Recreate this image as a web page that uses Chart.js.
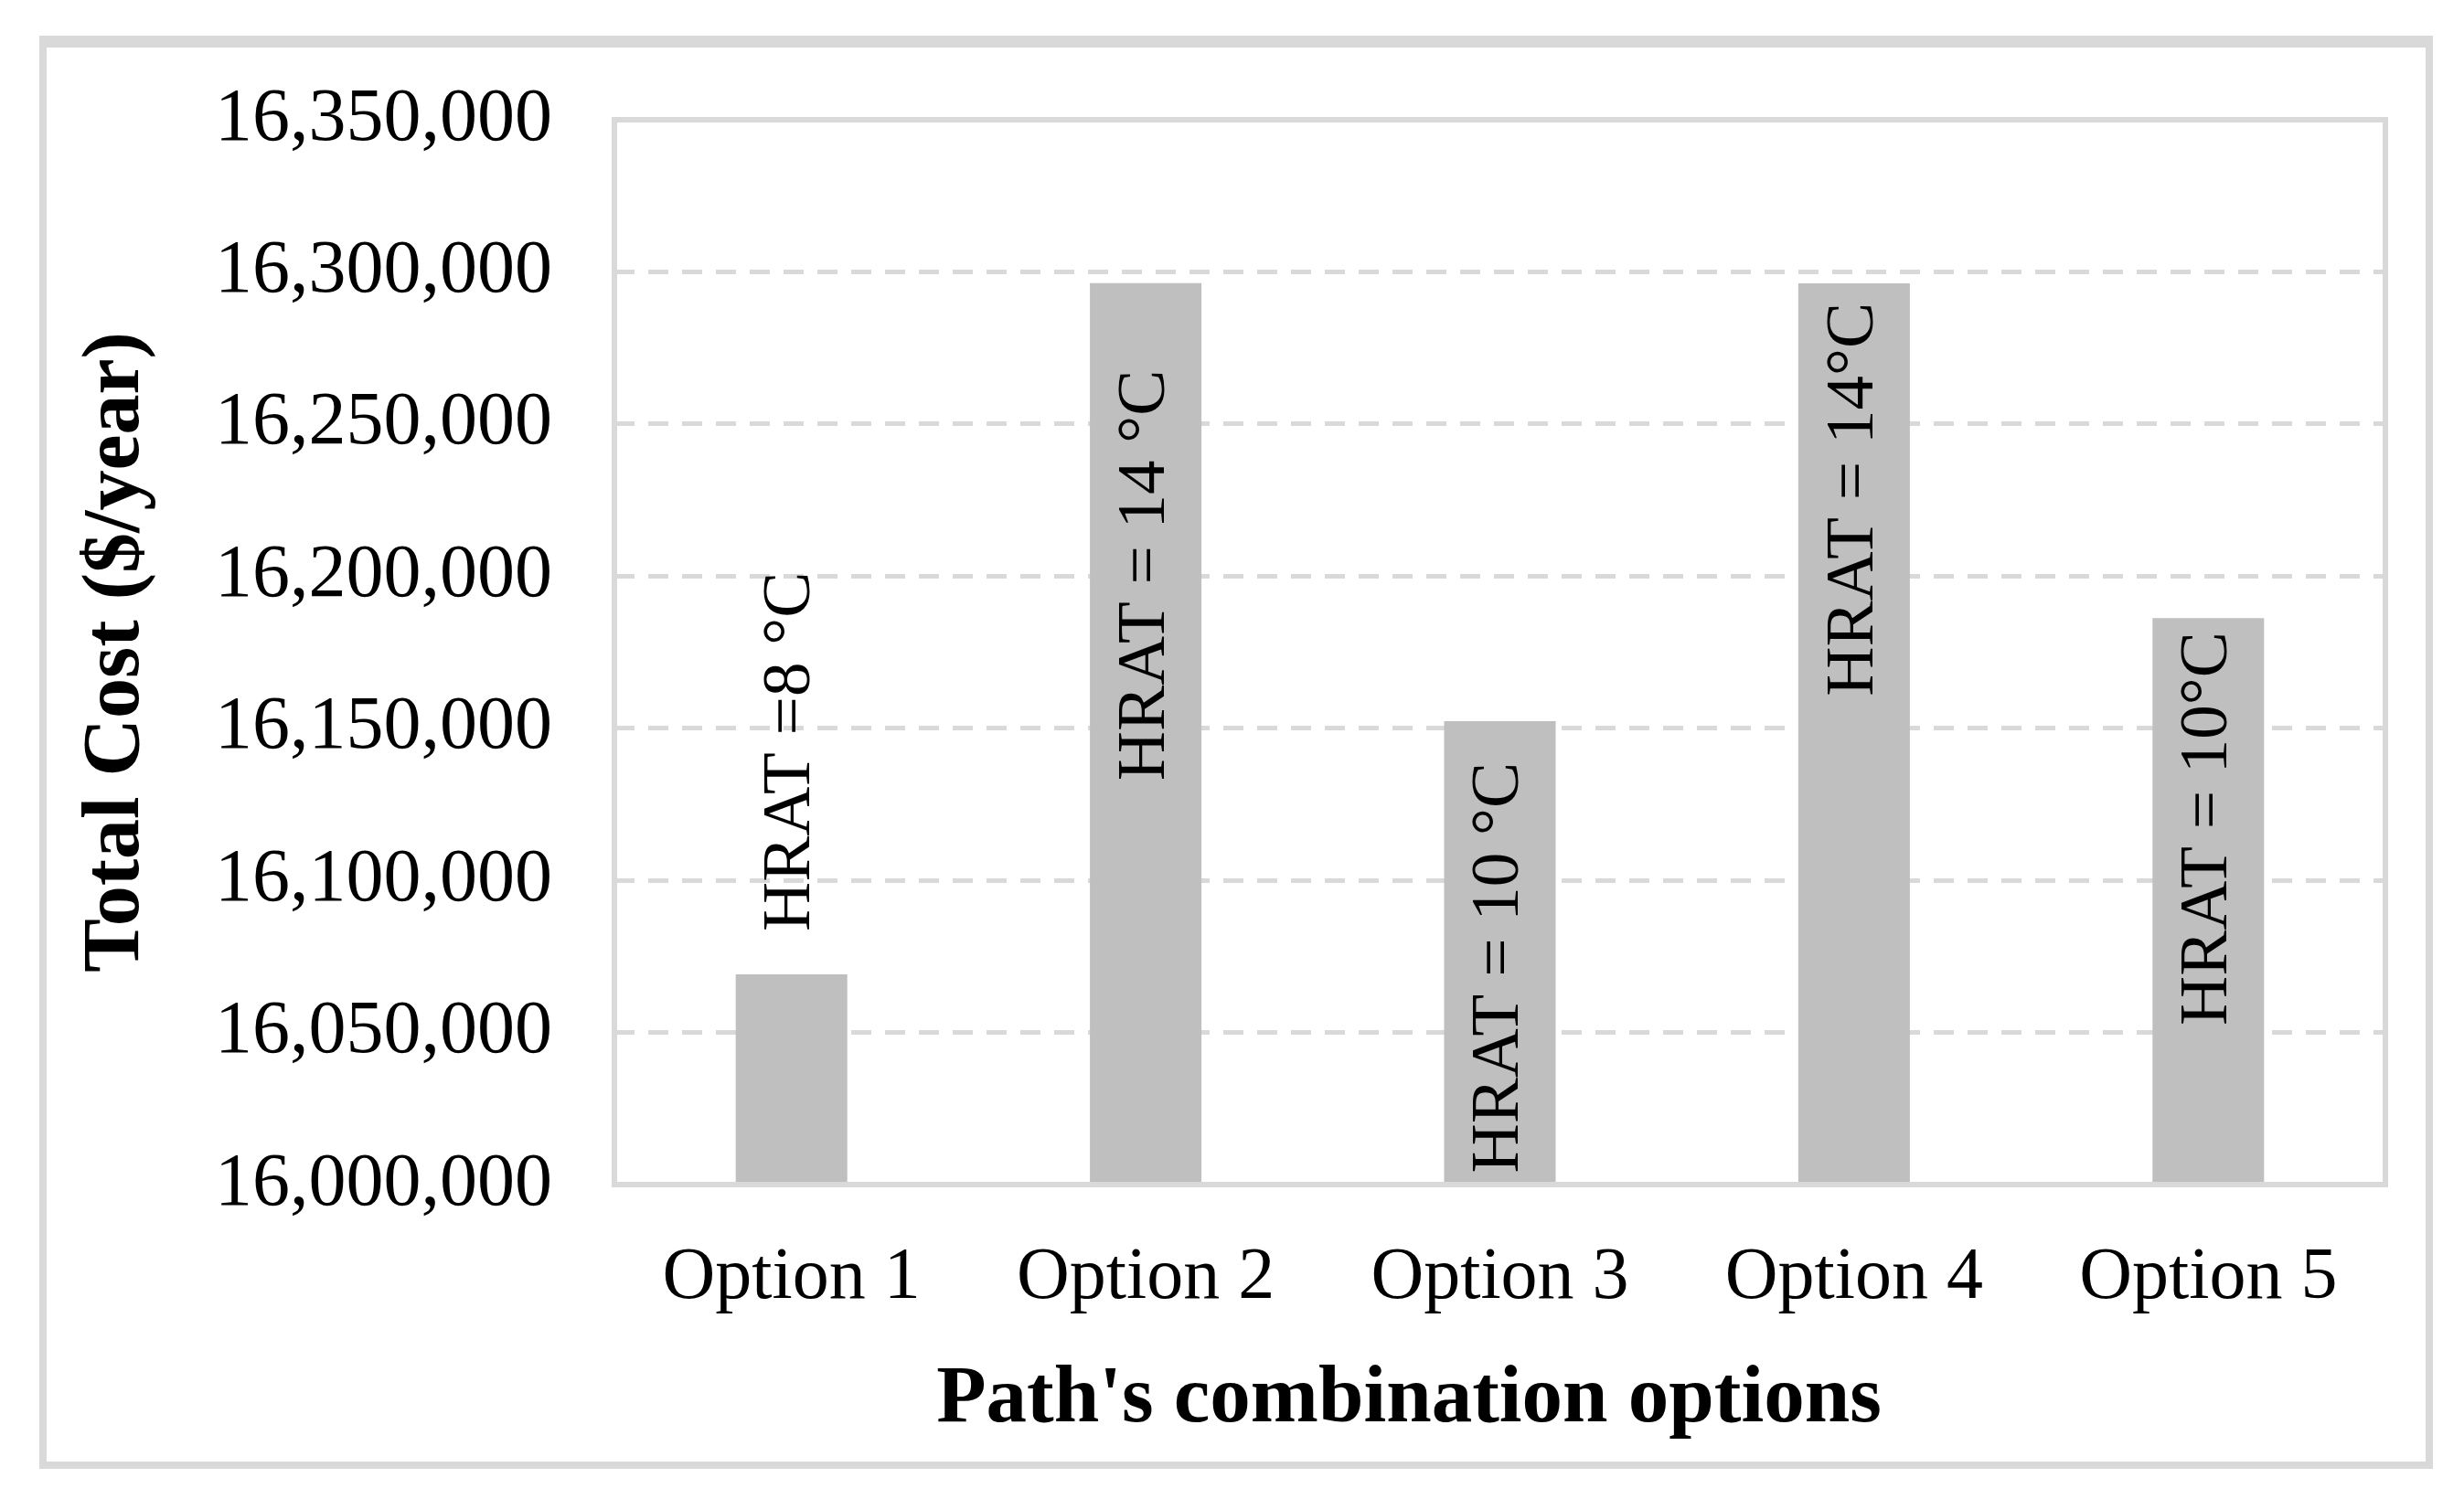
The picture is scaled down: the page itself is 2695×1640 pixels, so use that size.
<!DOCTYPE html>
<html>
<head>
<meta charset="utf-8">
<script src="https://cdn.jsdelivr.net/npm/chart.js@4.4.1/dist/chart.umd.min.js"></script>
<style>
  html, body { margin: 0; padding: 0; background: #fff; }
  #wrap { width: 2695px; height: 1640px; position: relative; }
</style>
</head>
<body>
<div id="wrap"><canvas id="myChart"></canvas></div>
<script>
// data
var categories = ["Option 1", "Option 2", "Option 3", "Option 4", "Option 5"];
var totalCost = [16069100, 16296300, 16152300, 16296200, 16186200];
var barLabels = ["HRAT =8 \u00B0C", "HRAT = 14 \u00B0C", "HRAT = 10 \u00B0C", "HRAT = 14\u00B0C", "HRAT = 10\u00B0C"];
var yTicks = [16000000, 16050000, 16100000, 16150000, 16200000, 16250000, 16300000, 16350000];

// where each rotated label sits, measured from the top of its bar
var labelPlace = [
    { side: "above", gap: 47 },
    { side: "inside", gap: 95 },
    { side: "inside", gap: 45 },
    { side: "inside", gap: 21 },
    { side: "inside", gap: 15 }
];

var serif = "'Liberation Serif', 'Times New Roman', serif";
var lineGrey = "#D9D9D9";

// plot box, outer frame and x title
var framePlugin = {
    id: "frame",
    afterDatasetsDraw: function (chart) {
        var ctx = chart.ctx, ca = chart.chartArea;
        ctx.save();
        ctx.strokeStyle = lineGrey;
        ctx.lineWidth = 6;
        ctx.strokeRect(ca.left, ca.top, ca.right - ca.left, ca.bottom - ca.top);
        ctx.restore();
    },
    afterDraw: function (chart) {
        var ctx = chart.ctx;
        ctx.save();
        ctx.strokeStyle = lineGrey;
        ctx.lineWidth = 8;
        ctx.strokeRect(47, 47, 2610, 1556);
        ctx.fillStyle = lineGrey;
        ctx.fillRect(43, 39, 2618, 13);

        ctx.fillStyle = "#000";
        ctx.font = "bold 89px " + serif;
        ctx.textAlign = "center";
        ctx.textBaseline = "middle";
        ctx.fillText("Path's combination options", 1541, 1532);
        ctx.restore();
    }
};

// rotated HRAT labels on the bars
var barLabelPlugin = {
    id: "barLabels",
    afterDatasetsDraw: function (chart) {
        var ctx = chart.ctx;
        var meta = chart.getDatasetMeta(0);
        ctx.save();
        ctx.font = "75px " + serif;
        ctx.fillStyle = "#000";
        ctx.textBaseline = "middle";
        meta.data.forEach(function (bar, i) {
            var p = labelPlace[i];
            ctx.save();
            ctx.translate(bar.x, p.side === "above" ? bar.y - p.gap : bar.y + p.gap);
            ctx.rotate(-Math.PI / 2);
            ctx.textAlign = p.side === "above" ? "left" : "right";
            ctx.fillText(barLabels[i], 0, 0);
            ctx.restore();
        });
        ctx.restore();
    }
};

var ctx = document.getElementById("myChart").getContext("2d");

var myChart = new Chart(ctx, {
    type: "bar",
    data: {
        labels: categories,
        datasets: [{
            data: totalCost,
            backgroundColor: "#BFBFBF",
            borderWidth: 0,
            barPercentage: 0.315,
            categoryPercentage: 1
        }]
    },
    options: {
        responsive: true,
        maintainAspectRatio: false,
        animation: false,
        layout: { padding: { top: 131, right: 86, bottom: 0, left: 0 } },
        plugins: {
            legend: { display: false },
            tooltip: { enabled: false }
        },
        scales: {
            x: {
                grid: { display: false },
                border: { display: false },
                ticks: {
                    color: "#000",
                    font: { family: serif, size: 80 },
                    padding: 47,
                    maxRotation: 0
                },
                afterFit: function (scale) { scale.height = 344; }
            },
            y: {
                min: yTicks[0],
                max: yTicks[yTicks.length - 1],
                afterBuildTicks: function (scale) {
                    scale.ticks = yTicks.map(function (v) { return { value: v }; });
                },
                grid: {
                    color: function (c) {
                        var v = c.tick ? c.tick.value : null;
                        return (v === yTicks[0] || v === yTicks[yTicks.length - 1]) ? "rgba(0,0,0,0)" : lineGrey;
                    },
                    lineWidth: 5,
                    drawTicks: false
                },
                border: { display: false, dash: [22, 15] },
                ticks: {
                    color: "#000",
                    font: { family: serif, size: 82 },
                    padding: 68,
                    callback: function (v) { return Number(v).toLocaleString("en-US"); }
                },
                title: {
                    display: true,
                    text: "Total Cost ($/year)",
                    color: "#000",
                    font: { family: serif, size: 88, weight: "bold" },
                    padding: { top: 75, bottom: 0 }
                },
                afterFit: function (scale) { scale.width = 672; }
            }
        }
    },
    plugins: [framePlugin, barLabelPlugin]
});
</script>
</body>
</html>
